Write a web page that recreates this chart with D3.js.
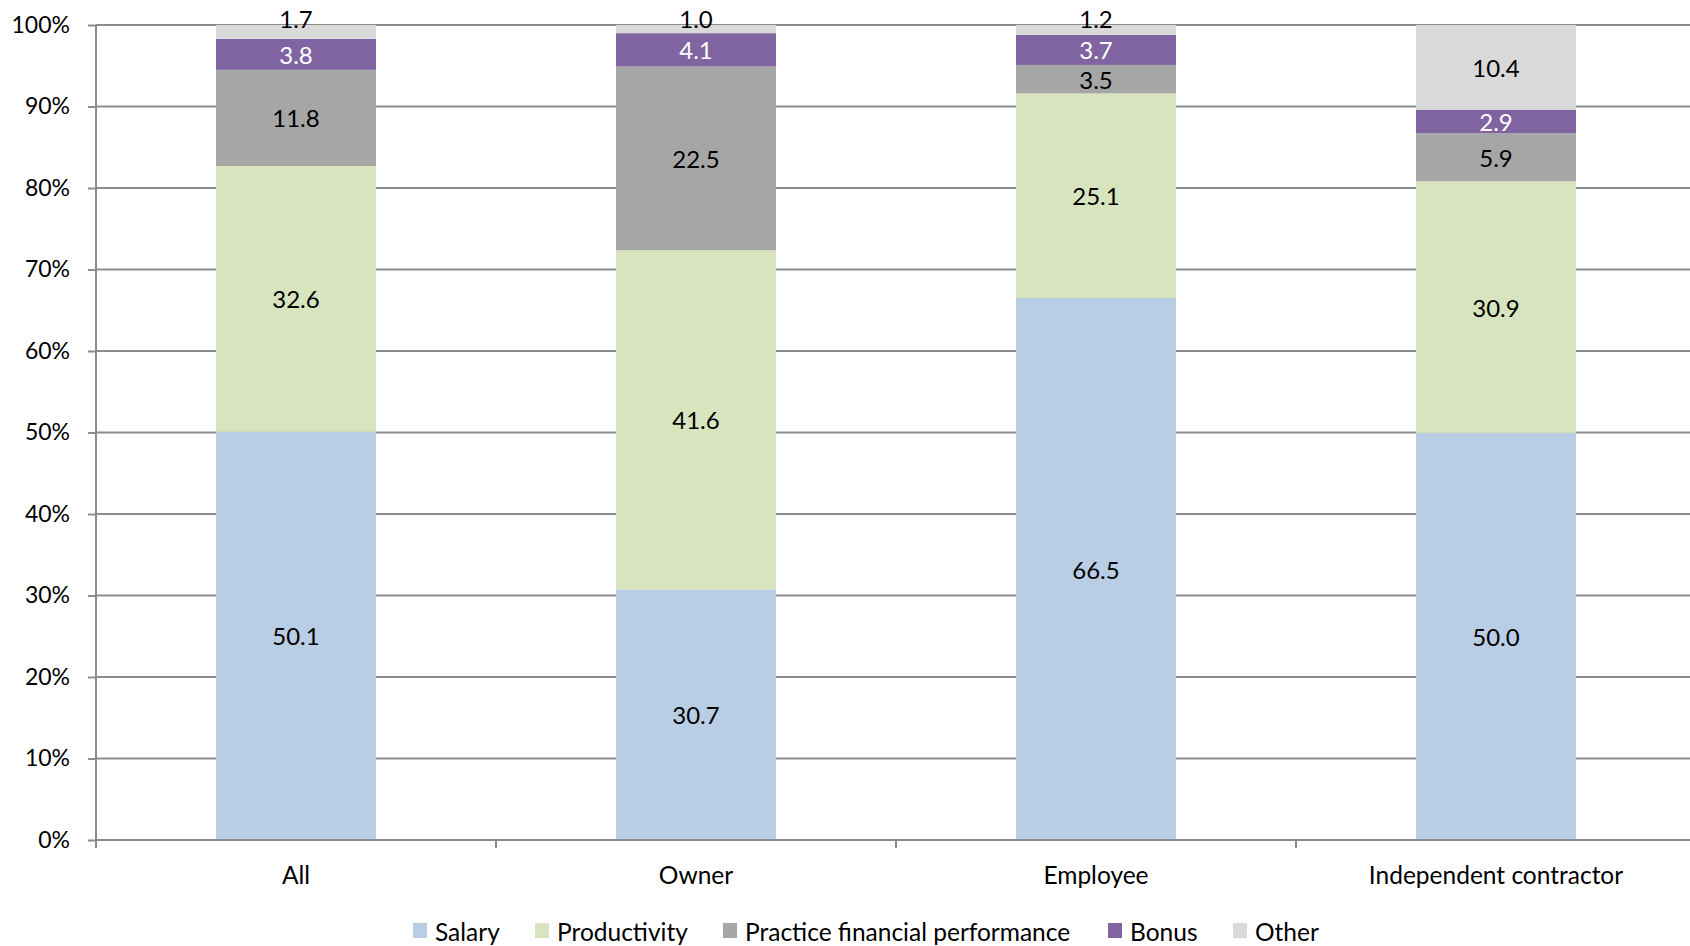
<!DOCTYPE html>
<html>
<head>
<meta charset="utf-8">
<script src="https://cdn.jsdelivr.net/npm/d3@7/dist/d3.min.js"></script>
<style>
  html, body { margin: 0; padding: 0; background: #fff; }
  svg { display: block; font-family: Lato, "Open Sans", sans-serif; }
</style>
</head>
<body>
<svg id="chart" width="1690" height="946"></svg>
<script>
// Compensation basis by practice role (percent of respondents)
const categories = ["All", "Owner", "Employee", "Independent contractor"];
const seriesNames = ["Salary", "Productivity", "Practice financial performance", "Bonus", "Other"];
const salary       = [50.1, 30.7, 66.5, 50.0];
const productivity = [32.6, 41.6, 25.1, 30.9];
const practiceFin  = [11.8, 22.5, 3.5, 5.9];
const bonus        = [3.8, 4.1, 3.7, 2.9];
const other        = [1.7, 1.0, 1.2, 10.4];
const yTicks = [0, 0.1, 0.2, 0.3, 0.4, 0.5, 0.6, 0.7, 0.8, 0.9, 1.0];

const colors = ["#B9CDE5", "#D7E4BD", "#A6A6A6", "#8064A2", "#D9D9D9"];
const labelColors = ["#000", "#000", "#000", "#fff", "#000"];

const seriesValues = [salary, productivity, practiceFin, bonus, other];
const rows = categories.map((c, i) => {
  const r = { category: c };
  seriesNames.forEach((s, k) => { r[s] = seriesValues[k][i]; });
  return r;
});

const svg = d3.select("#chart");
const plotLeft = 96, plotRight = 1696, plotTop = 25, plotBottom = 840;

const x = d3.scaleBand().domain(categories).range([plotLeft, plotRight])
  .paddingInner(0.6).paddingOuter(0.3);
const y = d3.scaleLinear().domain([0, 1]).range([plotBottom, plotTop]);

const stack = d3.stack().keys(seriesNames).offset(d3.stackOffsetExpand);
const layers = stack(rows);

const gridColor = "#8C8C8C";

// horizontal gridlines
svg.append("g").selectAll("line").data(yTicks.filter(t => t > 0)).join("line")
  .attr("x1", plotLeft).attr("x2", plotRight)
  .attr("y1", d => y(d)).attr("y2", d => y(d))
  .attr("stroke", gridColor).attr("stroke-width", 2);

// y axis
const yAxis = d3.axisLeft(y).tickValues(yTicks).tickFormat(d3.format(".0%"))
  .tickSize(8).tickPadding(18);
const gy = svg.append("g").attr("transform", `translate(${plotLeft},0)`).call(yAxis);
gy.select(".domain").remove();
gy.selectAll(".tick line").attr("stroke", gridColor).attr("stroke-width", 2);
gy.selectAll(".tick text").attr("font-size", 23).attr("fill", "#000")
  .attr("font-family", "Lato, 'Open Sans', sans-serif");
svg.append("line").attr("x1", plotLeft).attr("x2", plotLeft).attr("y1", plotTop).attr("y2", plotBottom + 8)
  .attr("stroke", gridColor).attr("stroke-width", 2);

// stacked bars
const gBars = svg.append("g");
layers.forEach((layer, k) => {
  gBars.append("g").selectAll("rect").data(layer).join("rect")
    .attr("x", d => x(d.data.category))
    .attr("width", x.bandwidth())
    .attr("y", d => y(d[1]))
    .attr("height", d => y(d[0]) - y(d[1]))
    .attr("fill", colors[k]);
});

// x axis baseline and category boundary ticks
svg.append("line").attr("x1", plotLeft).attr("x2", plotRight).attr("y1", plotBottom).attr("y2", plotBottom)
  .attr("stroke", gridColor).attr("stroke-width", 2);
const step = x.step();
const bounds = categories.map(c => x(c) + x.bandwidth() / 2 - step / 2).concat([plotRight]);
svg.append("g").selectAll("line").data(bounds).join("line")
  .attr("x1", d => d).attr("x2", d => d).attr("y1", plotBottom).attr("y2", plotBottom + 8)
  .attr("stroke", gridColor).attr("stroke-width", 2);

// category labels
svg.append("g").selectAll("text").data(categories).join("text")
  .attr("x", d => x(d) + x.bandwidth() / 2).attr("y", 874)
  .attr("text-anchor", "middle").attr("dominant-baseline", "central")
  .attr("font-size", 24.5).attr("fill", "#000").text(d => d);

// value labels, centred in each segment; thin top segments sit above the bar top
const gLabels = svg.append("g");
layers.forEach((layer, k) => {
  gLabels.append("g").selectAll("text").data(layer).join("text")
    .attr("x", d => x(d.data.category) + x.bandwidth() / 2)
    .attr("y", d => {
      const h = y(d[0]) - y(d[1]);
      const c = (y(d[0]) + y(d[1])) / 2;
      return (k === layers.length - 1 && h < 18) ? y(d[1]) - 7 : c;
    })
    .attr("text-anchor", "middle").attr("dominant-baseline", "central")
    .attr("font-size", 24).attr("fill", labelColors[k])
    .text(d => d3.format(".1f")(d.data[layer.key]));
});

// legend
const legendX = [413, 535, 723, 1108, 1233];
const legend = svg.append("g");
seriesNames.forEach((s, k) => {
  const g = legend.append("g").attr("transform", `translate(${legendX[k]},923)`);
  g.append("rect").attr("x", 0).attr("y", 0).attr("width", 14).attr("height", 15).attr("fill", colors[k]);
  g.append("text").attr("x", 22).attr("y", 8.5).attr("dominant-baseline", "central")
    .attr("font-size", 24.5).attr("fill", "#000").text(s);
});
</script>
</body>
</html>
